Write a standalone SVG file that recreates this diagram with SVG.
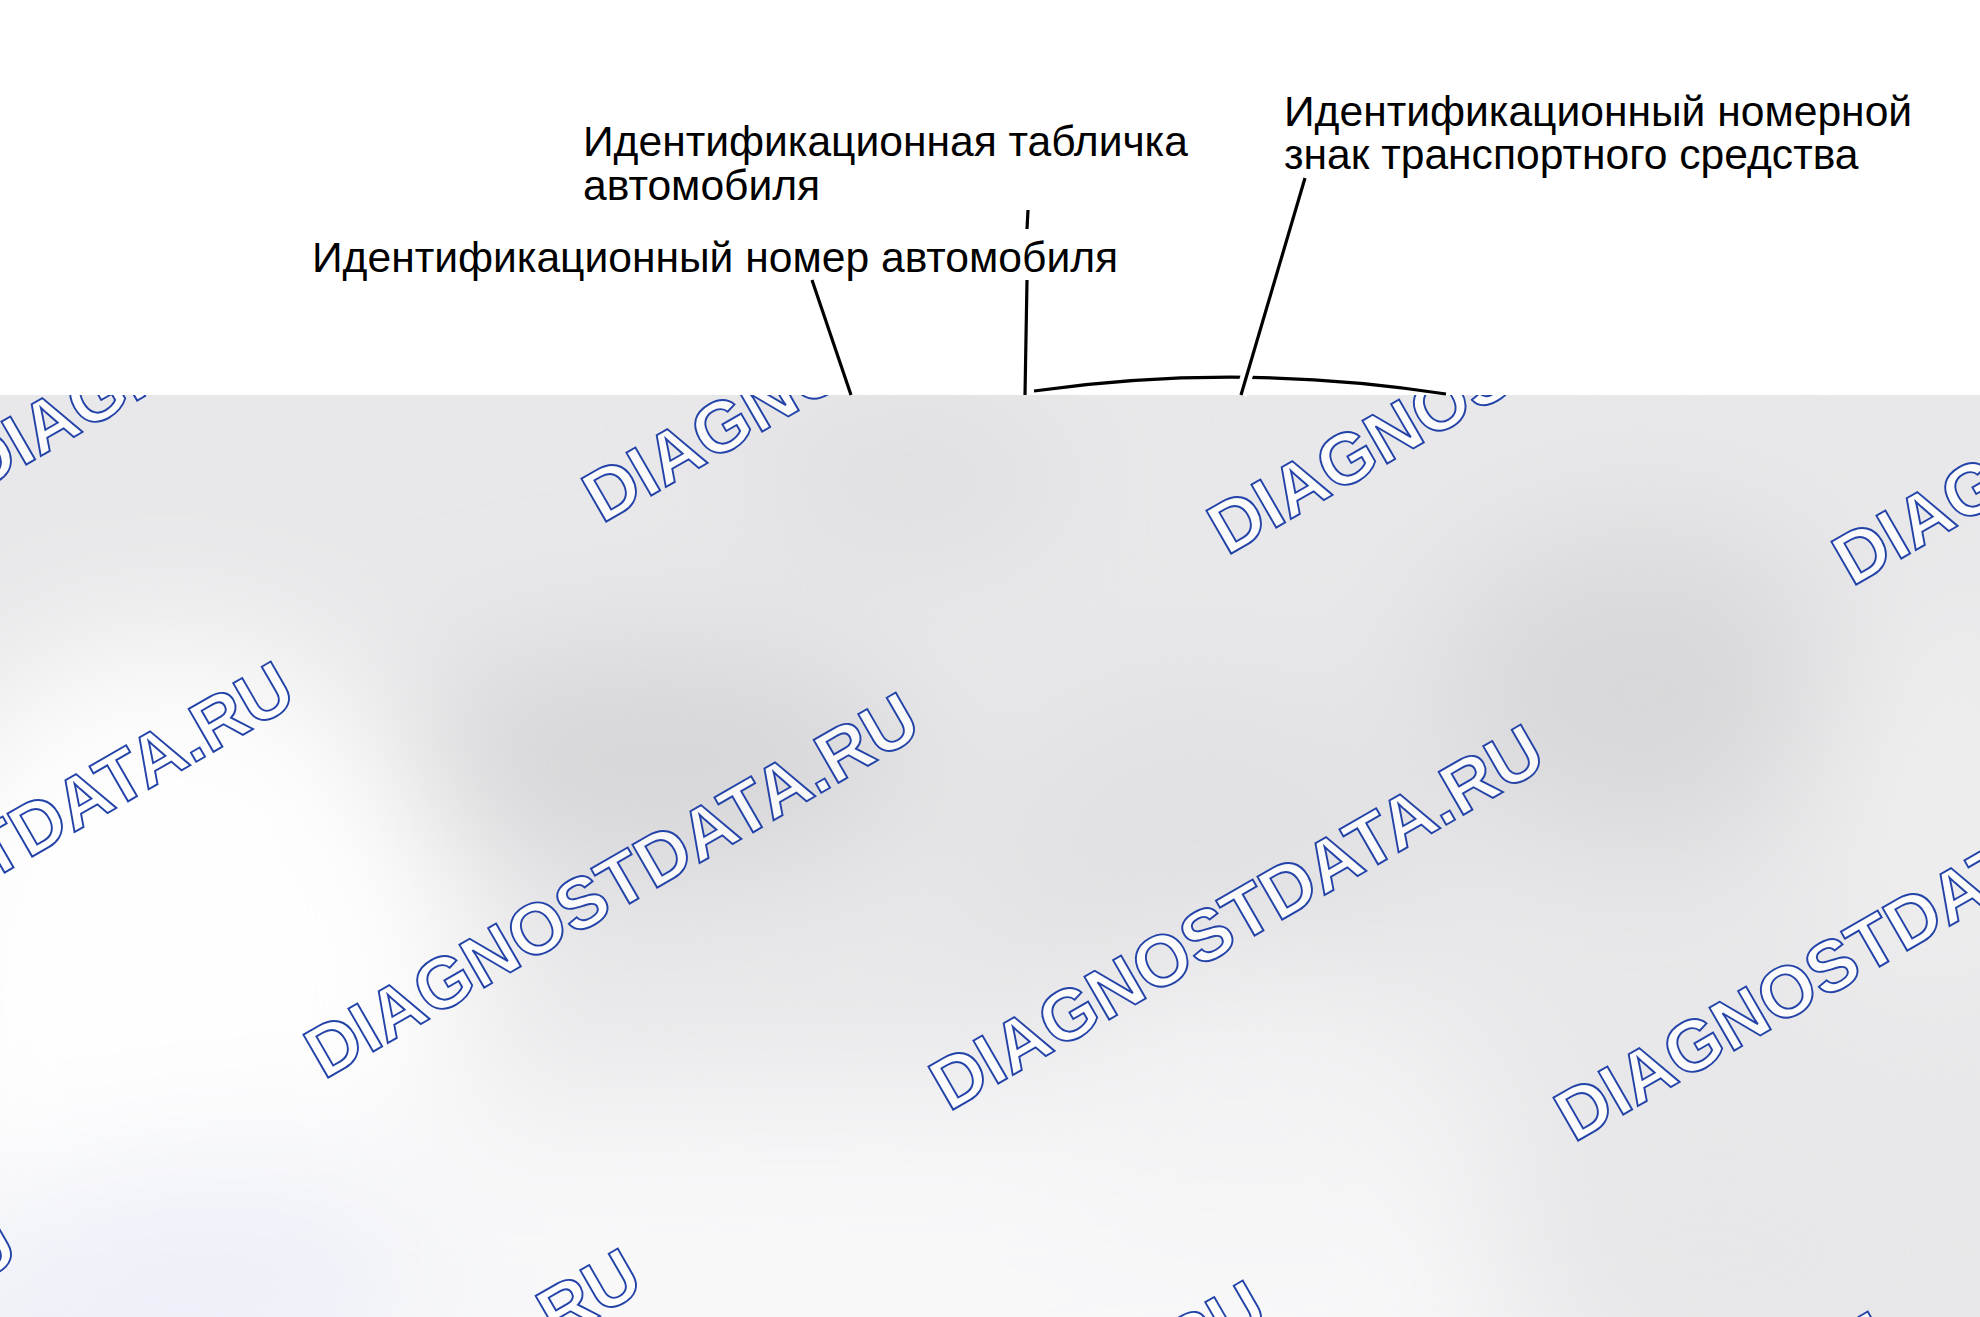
<svg xmlns="http://www.w3.org/2000/svg" width="1980" height="1317" viewBox="0 0 1980 1317">
  <style>
    .lbl { font-family: "Liberation Sans", Arial, sans-serif; font-size: 42.6px; fill: #000; }
    .wm { font-family: "Liberation Sans", Arial, sans-serif; font-weight: bold; font-size: 72px; fill: #ffffff; fill-opacity: 0.8; stroke: #2343a8; stroke-width: 1.9; }
    .ln { fill: none; stroke: #000; stroke-width: 3.2; stroke-linecap: butt; }
  </style>
  <defs>
    <clipPath id="photoClip"><rect x="0" y="395" width="1980" height="922"/></clipPath>
    <filter id="soft" x="-50%" y="-50%" width="200%" height="200%"><feGaussianBlur stdDeviation="70"/></filter>
  </defs>
  <rect x="0" y="0" width="1980" height="1317" fill="#ffffff"/>

  <g id="photo" clip-path="url(#photoClip)">
    <rect x="0" y="395" width="1980" height="922" fill="#e8e8ea"/>
    <g filter="url(#soft)">
      <ellipse cx="170" cy="1000" rx="300" ry="360" fill="#fefefe"/>
      <ellipse cx="660" cy="760" rx="260" ry="110" fill="#d6d6d8"/>
      <ellipse cx="1640" cy="690" rx="210" ry="160" fill="#d8d8da"/>
      <ellipse cx="910" cy="480" rx="160" ry="60" fill="#dcdcde"/>
      <ellipse cx="1200" cy="860" rx="220" ry="180" fill="#e1e1e3"/>
      <ellipse cx="800" cy="1290" rx="950" ry="200" fill="#f8f8f9"/>
      <ellipse cx="1250" cy="1090" rx="220" ry="130" fill="#f3f3f4"/>
      <ellipse cx="190" cy="1290" rx="230" ry="120" fill="#eef0f9"/>
      <ellipse cx="1720" cy="1250" rx="250" ry="140" fill="#e7e7e9"/>
      <ellipse cx="1930" cy="800" rx="120" ry="200" fill="#eeeeef"/>
    </g>
  </g>

  <g id="watermarks" clip-path="url(#photoClip)">
    <text class="wm" transform="translate(-23,493) rotate(-30)">DIAGNOSTDATA.RU</text>
    <text class="wm" transform="translate(602,524) rotate(-30)">DIAGNOSTDATA.RU</text>
    <text class="wm" transform="translate(1227,556) rotate(-30)">DIAGNOSTDATA.RU</text>
    <text class="wm" transform="translate(1852,587) rotate(-30)">DIAGNOSTDATA.RU</text>
    <text class="wm" transform="translate(-301,1049) rotate(-30)">DIAGNOSTDATA.RU</text>
    <text class="wm" transform="translate(324,1080) rotate(-30)">DIAGNOSTDATA.RU</text>
    <text class="wm" transform="translate(949,1112) rotate(-30)">DIAGNOSTDATA.RU</text>
    <text class="wm" transform="translate(1574,1143) rotate(-30)">DIAGNOSTDATA.RU</text>
    <text class="wm" transform="translate(-579,1605) rotate(-30)">DIAGNOSTDATA.RU</text>
    <text class="wm" transform="translate(46,1636) rotate(-30)">DIAGNOSTDATA.RU</text>
    <text class="wm" transform="translate(671,1668) rotate(-30)">DIAGNOSTDATA.RU</text>
    <text class="wm" transform="translate(1296,1699) rotate(-30)">DIAGNOSTDATA.RU</text>
  </g>

  <g id="connectors">
    <line class="ln" x1="812" y1="280" x2="851" y2="395"/>
    <line class="ln" x1="1028" y1="210" x2="1027" y2="229"/>
    <line class="ln" x1="1027" y1="280" x2="1025" y2="395"/>
    <path class="ln" d="M1034,391 Q1240,362 1446,394"/>
    <line x1="1305" y1="178" x2="1241" y2="395" stroke="#ffffff" stroke-width="12"/>
    <line class="ln" x1="1305" y1="178" x2="1241" y2="395"/>
  </g>

  <g id="label-plate">
    <text class="lbl" x="583" y="156">Идентификационная табличка</text>
    <text class="lbl" x="583" y="200">автомобиля</text>
  </g>
  <g id="label-vin">
    <text class="lbl" x="312" y="272">Идентификационный номер автомобиля</text>
  </g>
  <g id="label-regplate">
    <text class="lbl" x="1284" y="126">Идентификационный номерной</text>
    <text class="lbl" x="1284" y="169">знак транспортного средства</text>
  </g>
</svg>
